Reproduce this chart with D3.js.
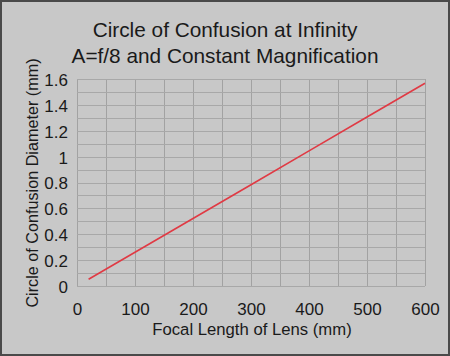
<!DOCTYPE html>
<html>
<head>
<meta charset="utf-8">
<script src="https://cdn.jsdelivr.net/npm/d3@7"></script>
<style>
html,body{margin:0;padding:0;background:#c8c8c8;}
svg{display:block;}
text{font-family:"Liberation Sans",Arial,sans-serif;fill:#1a1a1a;}
</style>
</head>
<body>
<script>
const titleLines = ["Circle of Confusion at Infinity", "A=f/8 and Constant Magnification"];
const xLabel = "Focal Length of Lens (mm)";
const yLabel = "Circle of Confusion Diameter (mm)";
const xTicks = [0, 100, 200, 300, 400, 500, 600];
const yTicks = [0, 0.2, 0.4, 0.6, 0.8, 1, 1.2, 1.4, 1.6];
const focalLengths = [20, 100, 200, 300, 400, 500, 600];
const cocValues = [0.052, 0.261, 0.522, 0.783, 1.044, 1.306, 1.567];

const W = 450, H = 356;
const svg = d3.select("body").append("svg").attr("width", W).attr("height", H);

svg.append("rect").attr("x", 1).attr("y", 1).attr("width", W - 2).attr("height", H - 2)
  .attr("fill", "#c8c8c8").attr("stroke", "#4a4a4a").attr("stroke-width", 2);

const x = d3.scaleLinear().domain([0, 600]).range([77, 425]);
const y = d3.scaleLinear().domain([0, 1.6]).range([286, 79]);

// grid
const g = svg.append("g");
g.selectAll("line.v").data(d3.range(0, 601, 50)).enter().append("line")
  .attr("x1", d => Math.round(x(d)) + 0.5).attr("x2", d => Math.round(x(d)) + 0.5)
  .attr("y1", y(1.6)).attr("y2", y(0))
  .attr("stroke", "#a2a2a2").attr("stroke-width", 1);
g.selectAll("line.h").data(d3.range(0, 17).map(i => i / 10)).enter().append("line")
  .attr("y1", d => Math.round(y(d)) + 0.5).attr("y2", d => Math.round(y(d)) + 0.5)
  .attr("x1", x(0)).attr("x2", x(600))
  .attr("stroke", "#a8a8a8").attr("stroke-width", 1);

// axes (labels only)
const xAxis = d3.axisBottom(x).tickValues(xTicks).tickSize(0).tickPadding(0).tickFormat(d3.format("d"));
const xa = svg.append("g").attr("transform", "translate(0,303)").call(xAxis);
xa.select(".domain").remove();
xa.selectAll("text").attr("font-size", 17).attr("dy", "0.71em").attr("fill", "#1a1a1a")
  .style("font-family", "'Liberation Sans',Arial,sans-serif");

const yAxis = d3.axisLeft(y).tickValues(yTicks).tickSize(0).tickPadding(0).tickFormat(d => d3.format("")(d));
const ya = svg.append("g").attr("transform", "translate(68,1)").call(yAxis);
ya.select(".domain").remove();
ya.selectAll("text").attr("font-size", 17).attr("fill", "#1a1a1a")
  .style("font-family", "'Liberation Sans',Arial,sans-serif");

// line
const line = d3.line().x((d, i) => x(focalLengths[i])).y(d => y(d));
svg.append("path").datum(cocValues).attr("d", line)
  .attr("fill", "none").attr("stroke", "#e03a44").attr("stroke-width", 1.6);

// titles
svg.selectAll("text.title").data(titleLines).enter().append("text")
  .attr("x", 225).attr("y", (d, i) => 37 + i * 26)
  .attr("text-anchor", "middle").attr("font-size", 20.8).text(d => d);

svg.append("text").attr("x", 252).attr("y", 335).attr("text-anchor", "middle")
  .attr("font-size", 16.7).text(xLabel);

svg.append("text").attr("transform", "translate(38,183) rotate(-90)")
  .attr("text-anchor", "middle").attr("font-size", 16.2).text(yLabel);
</script>
</body>
</html>
